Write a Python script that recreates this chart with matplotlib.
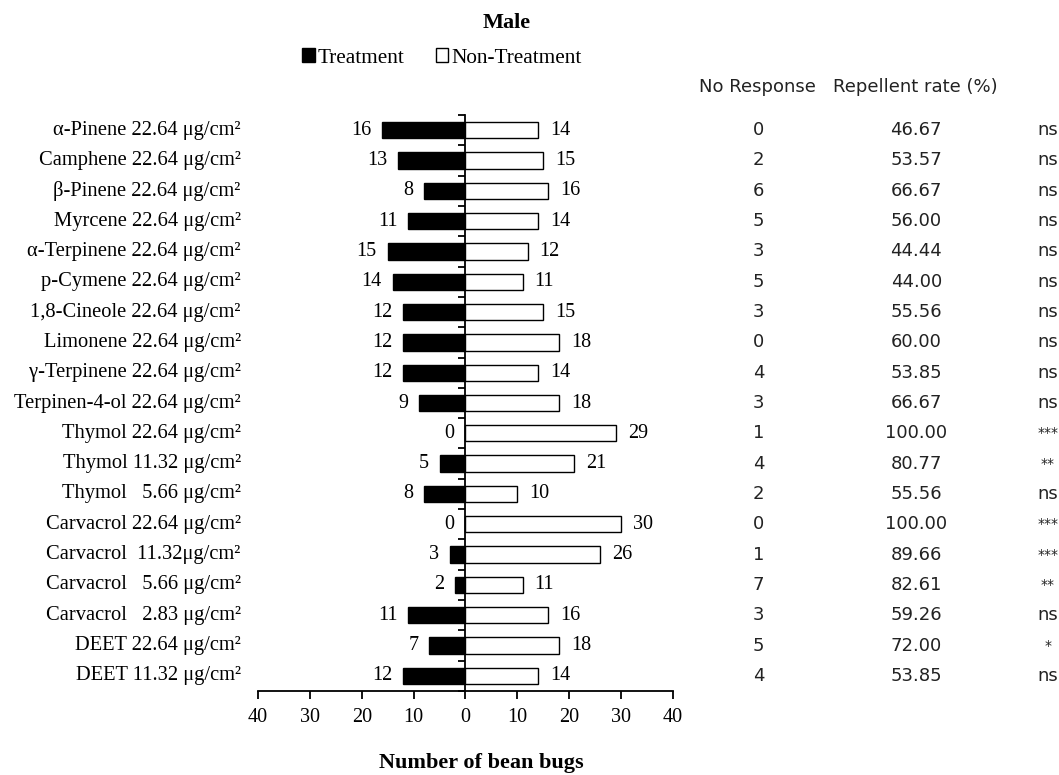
import numpy as np
import matplotlib.pyplot as plt
from matplotlib.patches import Patch

# data
labels = ['α-Pinene 22.64 μg/cm²', 'Camphene 22.64 μg/cm²', 'β-Pinene 22.64 μg/cm²',
          'Myrcene 22.64 μg/cm²', 'α-Terpinene 22.64 μg/cm²', 'p-Cymene 22.64 μg/cm²',
          '1,8-Cineole 22.64 μg/cm²', 'Limonene 22.64 μg/cm²', 'γ-Terpinene 22.64 μg/cm²',
          'Terpinen-4-ol 22.64 μg/cm²', 'Thymol 22.64 μg/cm²', 'Thymol 11.32 μg/cm²',
          'Thymol   5.66 μg/cm²', 'Carvacrol 22.64 μg/cm²', 'Carvacrol  11.32μg/cm²',
          'Carvacrol   5.66 μg/cm²', 'Carvacrol   2.83 μg/cm²', 'DEET 22.64 μg/cm²',
          'DEET 11.32 μg/cm²']
treatment = [16, 13, 8, 11, 15, 14, 12, 12, 12, 9, 0, 5, 8, 0, 3, 2, 11, 7, 12]
non_treatment = [14, 15, 16, 14, 12, 11, 15, 18, 14, 18, 29, 21, 10, 30, 26, 11, 16, 18, 14]
no_response = [0, 2, 6, 5, 3, 5, 3, 0, 4, 3, 1, 4, 2, 0, 1, 7, 3, 5, 4]
repellent = ['46.67', '53.57', '66.67', '56.00', '44.44', '44.00', '55.56', '60.00', '53.85',
             '66.67', '100.00', '80.77', '55.56', '100.00', '89.66', '82.61', '59.26', '72.00', '53.85']
signif = ['ns', 'ns', 'ns', 'ns', 'ns', 'ns', 'ns', 'ns', 'ns', 'ns',
          '***', '**', 'ns', '***', '***', '**', 'ns', '*', 'ns']

serif = 'Liberation Serif'
sans = 'DejaVu Sans'
txt_col = '#222222'

fig = plt.figure(figsize=(10.59, 7.75), dpi=100)
ax = fig.add_axes([0.2436, 0.1084, 0.3919, 0.7432])

y = np.arange(len(labels))
ax.barh(y, [-t for t in treatment], height=0.54, color='black', edgecolor='black', linewidth=1.0)
ax.barh(y, non_treatment, height=0.54, color='white', edgecolor='black', linewidth=1.0)

ax.set_xlim(-40, 40)
ax.set_ylim(len(labels) - 0.5, -0.5)

# value labels next to bars, category names at far left
for i in range(len(labels)):
    ax.text(-treatment[i] - 2.1, i, str(treatment[i]), ha='right', va='center',
            fontsize=14.5, family=serif)
    ax.text(non_treatment[i] + 2.3, i, str(non_treatment[i]), ha='left', va='center',
            fontsize=14.5, family=serif)
    ax.text(-43.3, i, labels[i], ha='right', va='center', fontsize=14.8, family=serif,
            clip_on=False)

# right-hand table (data coords beyond the x range)
for i in range(len(labels)):
    ax.text(56.5, i, str(no_response[i]), ha='center', va='center',
            fontsize=13, family=sans, color=txt_col, clip_on=False)
    ax.text(86.9, i, repellent[i], ha='center', va='center',
            fontsize=13, family=sans, color=txt_col, clip_on=False)
    ax.text(112.2, i, signif[i], ha='center', va='center',
            fontsize=13 if signif[i] == 'ns' else 10, family=sans, color=txt_col, clip_on=False)

fig.text(757 / 1059, 1 - 87 / 775, 'No Response', ha='center', va='center',
         fontsize=13, family=sans, color=txt_col)
fig.text(915 / 1059, 1 - 87 / 775, 'Repellent rate (%)', ha='center', va='center',
         fontsize=13, family=sans, color=txt_col)

# axes styling
for s in ['top', 'right']:
    ax.spines[s].set_visible(False)
ax.spines['left'].set_position(('data', 0))
ax.spines['left'].set_linewidth(1.3)
ax.spines['bottom'].set_linewidth(1.3)
ax.set_yticks(np.arange(len(labels) + 1) - 0.5)
ax.set_yticklabels([])
ax.tick_params(axis='y', direction='out', length=5, width=1.3)
ax.set_xticks(np.arange(-40, 41, 10))
ax.set_xticklabels([str(abs(v)) for v in range(-40, 41, 10)], fontsize=14.5, family=serif)
ax.tick_params(axis='x', direction='out', length=6, width=1.3, pad=6)

fig.text(481 / 1059, 1 - 763 / 775, 'Number of bean bugs', ha='center', va='center',
         fontsize=16, family=serif, fontweight='bold')
fig.text(507 / 1059, 1 - 23 / 775, 'Male', ha='center', va='center',
         fontsize=16, family=serif, fontweight='bold')

handles = [Patch(facecolor='black', edgecolor='black', label='Treatment'),
           Patch(facecolor='white', edgecolor='black', label='Non-Treatment')]
fig.legend(handles=handles, loc='center', bbox_to_anchor=(442 / 1059, 1 - 58 / 775),
           ncol=2, frameon=False, handlelength=0.6, handleheight=0.6,
           handletextpad=0.15, columnspacing=1.45, prop={'family': serif, 'size': 15.3})

fig.savefig('out.png', dpi=100)
